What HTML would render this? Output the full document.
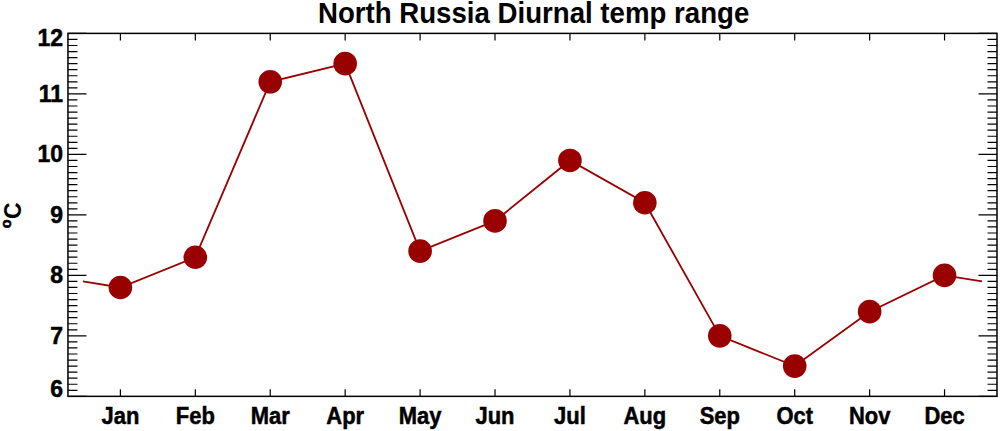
<!DOCTYPE html>
<html><head><meta charset="utf-8"><style>
html,body{margin:0;padding:0;background:#fff;width:1000px;height:431px;overflow:hidden}
svg{display:block}
text{font-family:"Liberation Sans",sans-serif;font-weight:bold}
</style></head><body>
<svg width="1000" height="431" viewBox="0 0 1000 431">
<rect x="67.95" y="33.4" width="929.05" height="362.95000000000005" fill="none" stroke="#000" stroke-width="1.5"/>
<path d="M67.95 396.35h18.5M997.0 396.35h-18.5M67.95 390.30h9.5M997.0 390.30h-9.5M67.95 384.25h9.5M997.0 384.25h-9.5M67.95 378.20h9.5M997.0 378.20h-9.5M67.95 372.15h9.5M997.0 372.15h-9.5M67.95 366.10h9.5M997.0 366.10h-9.5M67.95 360.06h9.5M997.0 360.06h-9.5M67.95 354.01h9.5M997.0 354.01h-9.5M67.95 347.96h9.5M997.0 347.96h-9.5M67.95 341.91h9.5M997.0 341.91h-9.5M67.95 335.86h18.5M997.0 335.86h-18.5M67.95 329.81h9.5M997.0 329.81h-9.5M67.95 323.76h9.5M997.0 323.76h-9.5M67.95 317.71h9.5M997.0 317.71h-9.5M67.95 311.66h9.5M997.0 311.66h-9.5M67.95 305.61h9.5M997.0 305.61h-9.5M67.95 299.56h9.5M997.0 299.56h-9.5M67.95 293.51h9.5M997.0 293.51h-9.5M67.95 287.47h9.5M997.0 287.47h-9.5M67.95 281.42h9.5M997.0 281.42h-9.5M67.95 275.37h18.5M997.0 275.37h-18.5M67.95 269.32h9.5M997.0 269.32h-9.5M67.95 263.27h9.5M997.0 263.27h-9.5M67.95 257.22h9.5M997.0 257.22h-9.5M67.95 251.17h9.5M997.0 251.17h-9.5M67.95 245.12h9.5M997.0 245.12h-9.5M67.95 239.07h9.5M997.0 239.07h-9.5M67.95 233.02h9.5M997.0 233.02h-9.5M67.95 226.97h9.5M997.0 226.97h-9.5M67.95 220.92h9.5M997.0 220.92h-9.5M67.95 214.88h18.5M997.0 214.88h-18.5M67.95 208.83h9.5M997.0 208.83h-9.5M67.95 202.78h9.5M997.0 202.78h-9.5M67.95 196.73h9.5M997.0 196.73h-9.5M67.95 190.68h9.5M997.0 190.68h-9.5M67.95 184.63h9.5M997.0 184.63h-9.5M67.95 178.58h9.5M997.0 178.58h-9.5M67.95 172.53h9.5M997.0 172.53h-9.5M67.95 166.48h9.5M997.0 166.48h-9.5M67.95 160.43h9.5M997.0 160.43h-9.5M67.95 154.38h18.5M997.0 154.38h-18.5M67.95 148.33h9.5M997.0 148.33h-9.5M67.95 142.29h9.5M997.0 142.29h-9.5M67.95 136.24h9.5M997.0 136.24h-9.5M67.95 130.19h9.5M997.0 130.19h-9.5M67.95 124.14h9.5M997.0 124.14h-9.5M67.95 118.09h9.5M997.0 118.09h-9.5M67.95 112.04h9.5M997.0 112.04h-9.5M67.95 105.99h9.5M997.0 105.99h-9.5M67.95 99.94h9.5M997.0 99.94h-9.5M67.95 93.89h18.5M997.0 93.89h-18.5M67.95 87.84h9.5M997.0 87.84h-9.5M67.95 81.79h9.5M997.0 81.79h-9.5M67.95 75.74h9.5M997.0 75.74h-9.5M67.95 69.69h9.5M997.0 69.69h-9.5M67.95 63.65h9.5M997.0 63.65h-9.5M67.95 57.60h9.5M997.0 57.60h-9.5M67.95 51.55h9.5M997.0 51.55h-9.5M67.95 45.50h9.5M997.0 45.50h-9.5M67.95 39.45h9.5M997.0 39.45h-9.5M67.95 33.40h18.5M997.0 33.40h-18.5M120.40 396.35v-7M120.40 33.4v7M195.32 396.35v-7M195.32 33.4v7M270.24 396.35v-7M270.24 33.4v7M345.17 396.35v-7M345.17 33.4v7M420.09 396.35v-7M420.09 33.4v7M495.01 396.35v-7M495.01 33.4v7M569.94 396.35v-7M569.94 33.4v7M644.86 396.35v-7M644.86 33.4v7M719.78 396.35v-7M719.78 33.4v7M794.71 396.35v-7M794.71 33.4v7M869.63 396.35v-7M869.63 33.4v7M944.55 396.35v-7M944.55 33.4v7" stroke="#000" stroke-width="1.2" fill="none"/>
<path d="M82.93 281.42L120.40 287.47L195.32 257.22L270.24 81.79L345.17 63.65L420.09 251.17L495.01 220.92L569.94 160.43L644.86 202.78L719.78 335.86L794.71 366.10L869.63 311.66L944.55 275.37L982.02 281.42" stroke="#990000" stroke-width="1.8" fill="none"/>
<circle cx="120.40" cy="287.47" r="11.8" fill="#990000"/>
<circle cx="195.32" cy="257.22" r="11.8" fill="#990000"/>
<circle cx="270.24" cy="81.79" r="11.8" fill="#990000"/>
<circle cx="345.17" cy="63.65" r="11.8" fill="#990000"/>
<circle cx="420.09" cy="251.17" r="11.8" fill="#990000"/>
<circle cx="495.01" cy="220.92" r="11.8" fill="#990000"/>
<circle cx="569.94" cy="160.43" r="11.8" fill="#990000"/>
<circle cx="644.86" cy="202.78" r="11.8" fill="#990000"/>
<circle cx="719.78" cy="335.86" r="11.8" fill="#990000"/>
<circle cx="794.71" cy="366.10" r="11.8" fill="#990000"/>
<circle cx="869.63" cy="311.66" r="11.8" fill="#990000"/>
<circle cx="944.55" cy="275.37" r="11.8" fill="#990000"/>
<g font-family="Liberation Sans, sans-serif" font-weight="bold" fill="#000"><text x="63" y="397.15" text-anchor="end" font-size="23" stroke="#000" stroke-width="0.5">6</text><text x="63" y="343.86" text-anchor="end" font-size="23" stroke="#000" stroke-width="0.5">7</text><text x="63" y="283.37" text-anchor="end" font-size="23" stroke="#000" stroke-width="0.5">8</text><text x="63" y="222.88" text-anchor="end" font-size="23" stroke="#000" stroke-width="0.5">9</text><text x="63" y="162.38" text-anchor="end" font-size="23" stroke="#000" stroke-width="0.5">10</text><text x="63" y="101.89" text-anchor="end" font-size="23" stroke="#000" stroke-width="0.5">11</text><text x="63" y="45.90" text-anchor="end" font-size="23" stroke="#000" stroke-width="0.5">12</text><text transform="translate(120.40 424.2) scale(0.955 1)" text-anchor="middle" font-size="23" stroke="#000" stroke-width="0.5">Jan</text><text transform="translate(195.32 424.2) scale(0.955 1)" text-anchor="middle" font-size="23" stroke="#000" stroke-width="0.5">Feb</text><text transform="translate(270.24 424.2) scale(0.955 1)" text-anchor="middle" font-size="23" stroke="#000" stroke-width="0.5">Mar</text><text transform="translate(345.17 424.2) scale(0.955 1)" text-anchor="middle" font-size="23" stroke="#000" stroke-width="0.5">Apr</text><text transform="translate(420.09 424.2) scale(0.955 1)" text-anchor="middle" font-size="23" stroke="#000" stroke-width="0.5">May</text><text transform="translate(495.01 424.2) scale(0.955 1)" text-anchor="middle" font-size="23" stroke="#000" stroke-width="0.5">Jun</text><text transform="translate(569.94 424.2) scale(0.955 1)" text-anchor="middle" font-size="23" stroke="#000" stroke-width="0.5">Jul</text><text transform="translate(644.86 424.2) scale(0.955 1)" text-anchor="middle" font-size="23" stroke="#000" stroke-width="0.5">Aug</text><text transform="translate(719.78 424.2) scale(0.955 1)" text-anchor="middle" font-size="23" stroke="#000" stroke-width="0.5">Sep</text><text transform="translate(794.71 424.2) scale(0.955 1)" text-anchor="middle" font-size="23" stroke="#000" stroke-width="0.5">Oct</text><text transform="translate(869.63 424.2) scale(0.955 1)" text-anchor="middle" font-size="23" stroke="#000" stroke-width="0.5">Nov</text><text transform="translate(944.55 424.2) scale(0.955 1)" text-anchor="middle" font-size="23" stroke="#000" stroke-width="0.5">Dec</text><text transform="translate(533.6 22.6) scale(0.953 1)" text-anchor="middle" font-size="29">North Russia Diurnal temp range</text><text transform="translate(21.4 215.3) rotate(-90)" text-anchor="middle" font-size="23"><tspan font-size="14.5" dy="-10.6" stroke="#000" stroke-width="0.6">o</tspan><tspan dy="10.6" dx="0.6">C</tspan></text></g>
</svg>
</body></html>
